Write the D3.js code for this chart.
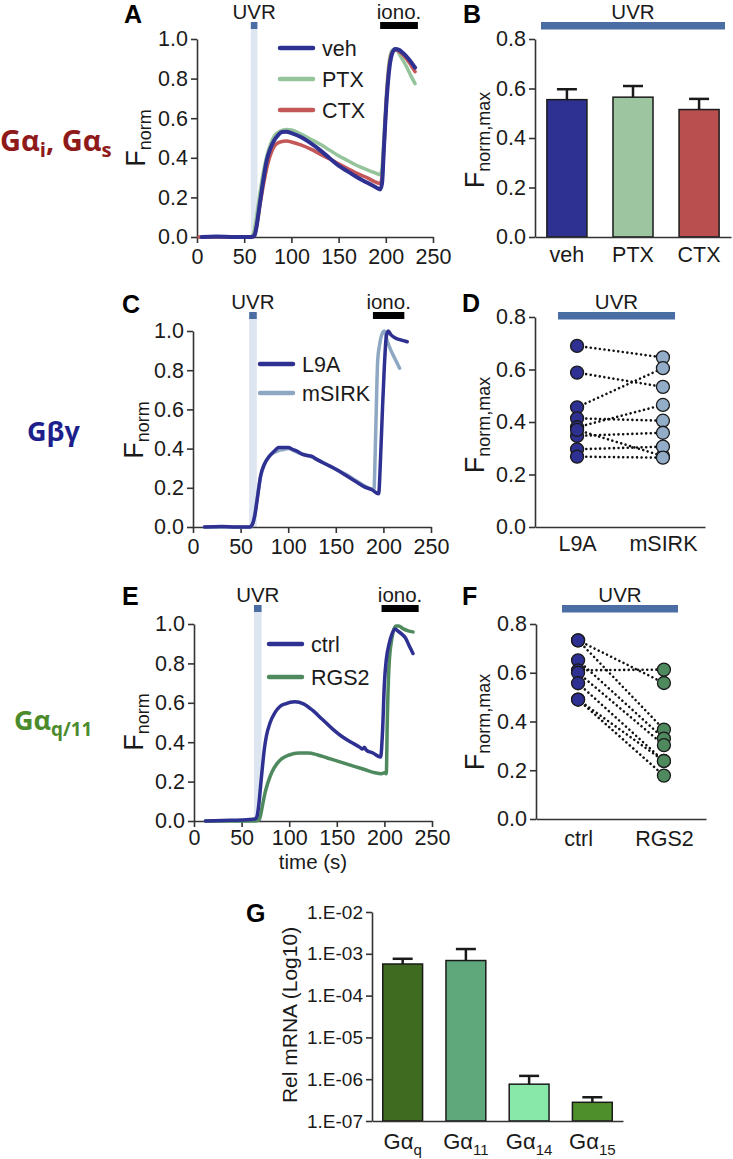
<!DOCTYPE html>
<html><head><meta charset="utf-8">
<script src="https://cdn.jsdelivr.net/npm/d3@7"></script>
<style>
body{margin:0;background:#fff}
svg{display:block}
text{font-family:"Liberation Sans",Arial,sans-serif}
</style>
</head><body>
<svg id="c" width="733" height="1159"></svg>
<script>
// ---------------- DATA ----------------
const timeTicks = [0, 50, 100, 150, 200, 250];
const fTicks = [0, 0.2, 0.4, 0.6, 0.8, 1.0];
const fmaxTicks = [0, 0.2, 0.4, 0.6, 0.8];

// Panel A traces [time s, Fnorm]
const vehA = [[5,0],[20,0.003],[40,0],[58,0],[61,0.01],[63,0.05],[66,0.15],[70,0.28],[74,0.39],[78,0.45],[82,0.49],[86,0.515],[90,0.53],[95,0.532],[100,0.525],[110,0.505],[120,0.475],[130,0.44],[140,0.4],[150,0.36],[160,0.33],[170,0.3],[180,0.275],[188,0.255],[194,0.24],[196,0.27],[198,0.45],[201,0.7],[204,0.86],[207,0.93],[210,0.95],[214,0.945],[218,0.93],[224,0.9],[231,0.855]];
const ptxA = [[3,0],[30,0],[57,0],[60,0.02],[63,0.1],[66,0.2],[70,0.32],[74,0.41],[78,0.47],[82,0.51],[88,0.535],[95,0.543],[100,0.54],[110,0.52],[120,0.495],[130,0.47],[140,0.44],[150,0.41],[160,0.385],[170,0.36],[180,0.34],[188,0.325],[194,0.315],[196,0.35],[198,0.5],[201,0.75],[204,0.9],[207,0.945],[211,0.945],[216,0.91],[222,0.86],[227,0.81],[231,0.775]];
const ctxA = [[2,0],[30,0],[58,0],[61,0.01],[64,0.08],[67,0.17],[71,0.28],[75,0.37],[79,0.43],[83,0.465],[88,0.48],[95,0.485],[100,0.48],[110,0.465],[120,0.445],[130,0.42],[140,0.395],[150,0.37],[160,0.345],[170,0.32],[180,0.3],[188,0.28],[194,0.27],[196,0.3],[198,0.45],[201,0.72],[204,0.88],[207,0.935],[211,0.945],[216,0.93],[222,0.9],[227,0.865],[231,0.835]];

// Panel B bars
const catsB = ["veh", "PTX", "CTX"];
const meanB = [0.555, 0.565, 0.515];
const semB = [0.042, 0.045, 0.043];

// Panel C traces
const l9aC = [[12,0],[30,0.003],[45,0],[60,0],[62,0.01],[65,0.06],[68,0.16],[71,0.26],[75,0.32],[80,0.36],[85,0.385],[90,0.405],[95,0.405],[100,0.405],[105,0.395],[110,0.385],[115,0.37],[120,0.365],[125,0.36],[130,0.345],[140,0.32],[150,0.295],[160,0.265],[170,0.235],[180,0.205],[188,0.19],[195,0.17],[197,0.35],[199,0.6],[201,0.82],[203,0.97],[205,1.0],[208,0.98],[212,0.965],[218,0.955],[225,0.945]];
const msirkC = [[12,0],[40,0],[60,0],[63,0.02],[66,0.1],[69,0.2],[72,0.28],[76,0.33],[80,0.36],[85,0.38],[90,0.39],[95,0.395],[100,0.4],[110,0.38],[120,0.365],[130,0.345],[140,0.32],[150,0.295],[160,0.27],[170,0.24],[180,0.21],[186,0.195],[190,0.19],[192,0.5],[194,0.85],[196,0.93],[199,0.99],[201,1.0],[204,0.95],[208,0.9],[212,0.86],[217,0.81]];

// Panel D paired values
const catsD = ["L9A", "mSIRK"];
const l9aD = [0.69, 0.588, 0.456, 0.414, 0.38, 0.347, 0.37, 0.296, 0.268];
const msirkD = [0.646, 0.534, 0.605, 0.405, 0.465, 0.359, 0.27, 0.306, 0.264];

// Panel E traces
const ctrlE = [[12,0],[30,0.003],[50,0.005],[64,0.01],[66,0.02],[68,0.08],[70,0.18],[72,0.28],[74,0.37],[76,0.43],[80,0.5],[85,0.55],[90,0.58],[96,0.595],[106,0.605],[115,0.595],[125,0.56],[135,0.515],[146,0.465],[155,0.43],[165,0.4],[174,0.375],[177,0.365],[179,0.375],[181,0.36],[188,0.345],[196,0.325],[198,0.45],[200,0.7],[202,0.82],[205,0.9],[208,0.95],[211,0.975],[214,0.965],[218,0.95],[222,0.93],[226,0.89],[230,0.85]];
const rgs2E = [[12,0],[40,0],[64,0],[68,0.005],[70,0.03],[72,0.08],[75,0.15],[78,0.2],[82,0.25],[87,0.29],[92,0.315],[100,0.335],[110,0.345],[120,0.345],[130,0.335],[140,0.32],[150,0.305],[160,0.29],[170,0.275],[180,0.26],[190,0.245],[197,0.24],[200,0.245],[202,0.24],[203,0.5],[205,0.8],[208,0.93],[212,0.99],[215,0.99],[220,0.975],[225,0.965],[230,0.96]];

// Panel F paired values
const catsF = ["ctrl", "RGS2"];
const ctrlF = [0.733, 0.733, 0.651, 0.61, 0.60, 0.557, 0.49, 0.49];
const rgs2F = [0.558, 0.367, 0.33, 0.613, 0.303, 0.238, 0.178, 0.238];

// Panel G (log scale)
const catsG = ["q", "11", "14", "15"];
const meanG = [5.7e-4, 6.9e-4, 7.6e-7, 2.8e-7];
const errG = [7.6e-4, 1.3e-3, 1.2e-6, 3.7e-7];
const gTicks = [1e-7, 1e-6, 1e-5, 1e-4, 1e-3, 1e-2];
const gTickLabels = ["1.E-07", "1.E-06", "1.E-05", "1.E-04", "1.E-03", "1.E-02"];

// ---------------- DRAWING ----------------
const svg = d3.select("#c");
const AX = "#333";
const BLUE = "#2e3192";
const UVRC = "#4a6ea3";
const BAND = "#dde5f1";
const FS = 21.5;

function styleAxis(g, fs) {
  g.attr("font-family", null).attr("font-size", null);
  g.select(".domain").attr("stroke", AX).attr("stroke-width", 1.6);
  g.selectAll(".tick line").attr("stroke", AX).attr("stroke-width", 1.6);
  g.selectAll(".tick text").attr("fill", "#1a1a1a")
    .style("font-size", fs + "px").style("font-family", "Liberation Sans, Arial, sans-serif");
}

function panelLabel(t, x, y) {
  svg.append("text").attr("x", x).attr("y", y).attr("font-size", 25).attr("font-weight", "bold")
    .attr("fill", "#000").text(t);
}

function fnormTitle(cx, cy, sub) {
  const t = svg.append("text").attr("transform", `translate(${cx},${cy}) rotate(-90)`)
    .attr("text-anchor", "middle").attr("fill", "#1a1a1a");
  t.append("tspan").attr("font-size", 27).text("F");
  t.append("tspan").attr("font-size", 18).attr("dy", 6).text(sub);
}

function timePanel(o) {
  const x = d3.scaleLinear().domain([0, 250]).range([o.xl, o.xr]);
  const y = d3.scaleLinear().domain([0, 1]).range([o.yb, o.yt]);
  const g = svg.append("g");
  g.append("rect").attr("x", x(o.uvr[0])).attr("width", x(o.uvr[1]) - x(o.uvr[0]))
    .attr("y", o.markY + 7).attr("height", o.yb - o.markY - 7).attr("fill", BAND);
  g.append("rect").attr("x", x(o.uvr[0])).attr("width", x(o.uvr[1]) - x(o.uvr[0]))
    .attr("y", o.markY).attr("height", 7).attr("fill", UVRC);
  g.append("rect").attr("x", x(o.iono[0])).attr("width", x(o.iono[1]) - x(o.iono[0]))
    .attr("y", o.markY).attr("height", 7).attr("fill", "#000");
  g.append("text").attr("x", x((o.uvr[0] + o.uvr[1]) / 2)).attr("y", o.markY - 3)
    .attr("text-anchor", "middle").attr("font-size", 20.5).attr("fill", "#1a1a1a").text("UVR");
  g.append("text").attr("x", x((o.iono[0] + o.iono[1]) / 2)).attr("y", o.markY - 3)
    .attr("text-anchor", "middle").attr("font-size", 20.5).attr("fill", "#1a1a1a").text("iono.");
  g.append("g").attr("transform", `translate(0,${o.yb})`)
    .call(d3.axisBottom(x).tickValues(timeTicks).tickSize(6).tickSizeOuter(0).tickPadding(o.xpad))
    .call(styleAxis, FS);
  g.append("g").attr("transform", `translate(${o.xl},0)`)
    .call(d3.axisLeft(y).tickValues(fTicks).tickFormat(d3.format(".1f")).tickSize(6).tickSizeOuter(0))
    .call(styleAxis, FS);
  const line = d3.line().x(d => x(d[0])).y(d => y(d[1])).curve(d3.curveMonotoneX);
  o.series.forEach(s => {
    g.append("path").attr("d", line(s.data)).attr("fill", "none").attr("stroke", s.color)
      .attr("stroke-width", s.w).attr("stroke-linejoin", "round").attr("stroke-linecap", "round");
  });
  o.legend.forEach((s, i) => {
    const ly = o.legY + i * o.legDy;
    g.append("line").attr("x1", o.legX).attr("x2", o.legX + 33).attr("y1", ly).attr("y2", ly)
      .attr("stroke", s.color).attr("stroke-width", 4.5).attr("stroke-linecap", "round");
    g.append("text").attr("x", o.legX + 42).attr("y", ly).attr("dy", "0.36em")
      .attr("font-size", FS).attr("fill", "#1a1a1a").text(s.name);
  });
  return x;
}

function uvrBar(x0, x1, yTop, label) {
  svg.append("rect").attr("x", x0).attr("width", x1 - x0).attr("y", yTop).attr("height", 7.5).attr("fill", UVRC);
  svg.append("text").attr("x", (x0 + x1) / 2).attr("y", yTop - 3).attr("text-anchor", "middle")
    .attr("font-size", 20.5).attr("fill", "#1a1a1a").text(label);
}

function pairPanel(o) {
  const x = d3.scalePoint().domain(o.cats).range([o.xl, o.xr]).padding(0.49);
  const y = d3.scaleLinear().domain([0, 0.8]).range([o.yb, o.yt]);
  const g = svg.append("g");
  g.append("g").attr("transform", `translate(0,${o.yb})`)
    .call(d3.axisBottom(x).tickSize(0).tickPadding(o.xpad))
    .call(styleAxis, FS);
  g.append("g").attr("transform", `translate(${o.xl},0)`)
    .call(d3.axisLeft(y).tickValues(fmaxTicks).tickFormat(d3.format(".1f")).tickSize(6).tickSizeOuter(0))
    .call(styleAxis, FS);
  o.a.forEach((v, i) => {
    g.append("line").attr("x1", x(o.cats[0])).attr("y1", y(v)).attr("x2", x(o.cats[1])).attr("y2", y(o.b[i]))
      .attr("stroke", "#111").attr("stroke-width", 2.6).attr("stroke-linecap", "round")
      .attr("stroke-dasharray", "0.01 4.6");
  });
  g.selectAll("circle.a").data(o.a).enter().append("circle")
    .attr("cx", x(o.cats[0])).attr("cy", d => y(d)).attr("r", 6.5)
    .attr("fill", o.ca).attr("stroke", "#1a1a1a").attr("stroke-width", 1.3);
  g.selectAll("circle.b").data(o.b).enter().append("circle")
    .attr("cx", x(o.cats[1])).attr("cy", d => y(d)).attr("r", 6.5)
    .attr("fill", o.cb).attr("stroke", "#1a1a1a").attr("stroke-width", 1.3);
}

function groupLabel(x, y, color, fs, parts) {
  const t = svg.append("text").attr("x", x).attr("y", y).attr("fill", color)
    .attr("font-weight", "bold").style("font-family", "'Open Sans', 'DejaVu Sans', sans-serif");
  let cur = 0;
  parts.forEach(p => {
    const dy = (p.sub ? 6 : 0) - cur;
    cur = p.sub ? 6 : 0;
    t.append("tspan").attr("dy", dy).attr("font-size", p.sub ? fs * 0.7 : fs).text(p.t);
  });
}
groupLabel(0, 151, "#8f1a1a", 29, [{t: "Gα"}, {t: "i", sub: 1}, {t: ", Gα"}, {t: "s", sub: 1}]);
groupLabel(27, 441, "#1c1f8c", 27, [{t: "Gβγ"}]);
groupLabel(14, 730, "#4b8b2c", 27, [{t: "Gα"}, {t: "q/11", sub: 1}]);

// ---- Panel A ----
panelLabel("A", 124, 23);
timePanel({xl: 197, xr: 433, yb: 237, yt: 39, xpad: 6, markY: 22, uvr: [57, 64], iono: [194, 234],
  series: [{data: ptxA, color: "#95c49b", w: 3.5}, {data: ctxA, color: "#c45858", w: 3.5}, {data: vehA, color: BLUE, w: 4}],
  legend: [{name: "veh", color: BLUE}, {name: "PTX", color: "#95c49b"}, {name: "CTX", color: "#c45858"}],
  legX: 280, legY: 48, legDy: 31});
fnormTitle(145, 138, "norm");

// ---- Panel B ----
panelLabel("B", 463, 23);
uvrBar(541, 725, 22, "UVR");
(function () {
  const x = d3.scaleBand().domain(catsB).range([535, 731]).paddingInner(0.394).paddingOuter(0.18);
  const y = d3.scaleLinear().domain([0, 0.8]).range([237, 39]);
  const colors = [BLUE, "#9cc5a0", "#b9504f"];
  const g = svg.append("g");
  catsB.forEach((c, i) => {
    const cx = x(c) + x.bandwidth() / 2;
    g.append("line").attr("x1", cx).attr("x2", cx).attr("y1", y(meanB[i])).attr("y2", y(meanB[i] + semB[i]))
      .attr("stroke", "#1a1a1a").attr("stroke-width", 2.5);
    g.append("line").attr("x1", cx - 10).attr("x2", cx + 10).attr("y1", y(meanB[i] + semB[i])).attr("y2", y(meanB[i] + semB[i]))
      .attr("stroke", "#1a1a1a").attr("stroke-width", 2.5);
    g.append("rect").attr("x", x(c)).attr("width", x.bandwidth()).attr("y", y(meanB[i]))
      .attr("height", y(0) - y(meanB[i])).attr("fill", colors[i]).attr("stroke", "#1a1a1a").attr("stroke-width", 1.5);
  });
  g.append("g").attr("transform", "translate(0,237)").call(d3.axisBottom(x).tickSize(0).tickPadding(10)).call(styleAxis, FS);
  g.append("g").attr("transform", "translate(535,0)")
    .call(d3.axisLeft(y).tickValues(fmaxTicks).tickFormat(d3.format(".1f")).tickSize(6).tickSizeOuter(0))
    .call(styleAxis, FS);
})();
fnormTitle(484, 140, "norm,max");

// ---- Panel C ----
panelLabel("C", 122, 313);
timePanel({xl: 193, xr: 431, yb: 527, yt: 331, xpad: 6, markY: 312, uvr: [59, 67], iono: [189, 222],
  series: [{data: msirkC, color: "#8ea8c3", w: 3.5}, {data: l9aC, color: BLUE, w: 3.5}],
  legend: [{name: "L9A", color: BLUE}, {name: "mSIRK", color: "#8ea8c3"}],
  legX: 260, legY: 364, legDy: 29});
fnormTitle(143, 430, "norm");

// ---- Panel D ----
panelLabel("D", 462, 312);
uvrBar(558, 675, 312, "UVR");
pairPanel({cats: catsD, a: l9aD, b: msirkD, ca: "#2e3192", cb: "#93adc8",
  xl: 535, xr: 705, yb: 527, yt: 317, xpad: 9});
fnormTitle(484, 425, "norm,max");

// ---- Panel E ----
panelLabel("E", 122, 605);
timePanel({xl: 194, xr: 432, yb: 821, yt: 624, xpad: 3, markY: 605, uvr: [63, 71], iono: [197, 236],
  series: [{data: rgs2E, color: "#4f8a5f", w: 3.5}, {data: ctrlE, color: BLUE, w: 3.5}],
  legend: [{name: "ctrl", color: BLUE}, {name: "RGS2", color: "#4f8a5f"}],
  legX: 269, legY: 644, legDy: 33});
fnormTitle(143, 722, "norm");
svg.append("text").attr("x", 313).attr("y", 869).attr("text-anchor", "middle").attr("font-size", 20.5)
  .attr("fill", "#1a1a1a").text("time (s)");

// ---- Panel F ----
panelLabel("F", 462, 605);
uvrBar(562, 678, 605, "UVR");
pairPanel({cats: catsF, a: ctrlF, b: rgs2F, ca: "#2e3192", cb: "#4f8a5f",
  xl: 536, xr: 706, yb: 819, yt: 624, xpad: 12});
fnormTitle(484, 722, "norm,max");

// ---- Panel G ----
panelLabel("G", 246, 922);
(function () {
  const x = d3.scaleBand().domain(catsG).range([372, 623]).paddingInner(0.37).paddingOuter(0.17);
  const y = d3.scaleLog().domain([1e-7, 1e-2]).range([1121, 912]);
  const colors = ["#3e6b1f", "#5ea87c", "#88e8aa", "#4f8f2b"];
  const g = svg.append("g");
  catsG.forEach((c, i) => {
    const cx = x(c) + x.bandwidth() / 2;
    g.append("line").attr("x1", cx).attr("x2", cx).attr("y1", y(meanG[i])).attr("y2", y(errG[i]))
      .attr("stroke", "#1a1a1a").attr("stroke-width", 2.5);
    g.append("line").attr("x1", cx - 10).attr("x2", cx + 10).attr("y1", y(errG[i])).attr("y2", y(errG[i]))
      .attr("stroke", "#1a1a1a").attr("stroke-width", 2.5);
    g.append("rect").attr("x", x(c)).attr("width", x.bandwidth()).attr("y", y(meanG[i]))
      .attr("height", y(1e-7) - y(meanG[i])).attr("fill", colors[i]).attr("stroke", "#1a1a1a").attr("stroke-width", 1.5);
    const t = g.append("text").attr("x", cx).attr("y", 1149).attr("text-anchor", "middle").attr("fill", "#1a1a1a");
    t.append("tspan").attr("font-size", 22).text("Gα");
    t.append("tspan").attr("font-size", 15).attr("dy", 6).text(c);
  });
  g.append("g").attr("transform", "translate(0,1121)").call(d3.axisBottom(x).tickSize(0).tickFormat(""))
    .call(styleAxis, 18);
  g.append("g").attr("transform", "translate(372,0)")
    .call(d3.axisLeft(y).tickValues(gTicks).tickFormat((d, i) => gTickLabels[i]).tickSize(6).tickSizeOuter(0))
    .call(styleAxis, 19);
  svg.append("text").attr("transform", "translate(297,1015) rotate(-90)").attr("text-anchor", "middle")
    .attr("font-size", 21).attr("fill", "#1a1a1a").text("Rel mRNA (Log10)");
})();
</script>
</body></html>
